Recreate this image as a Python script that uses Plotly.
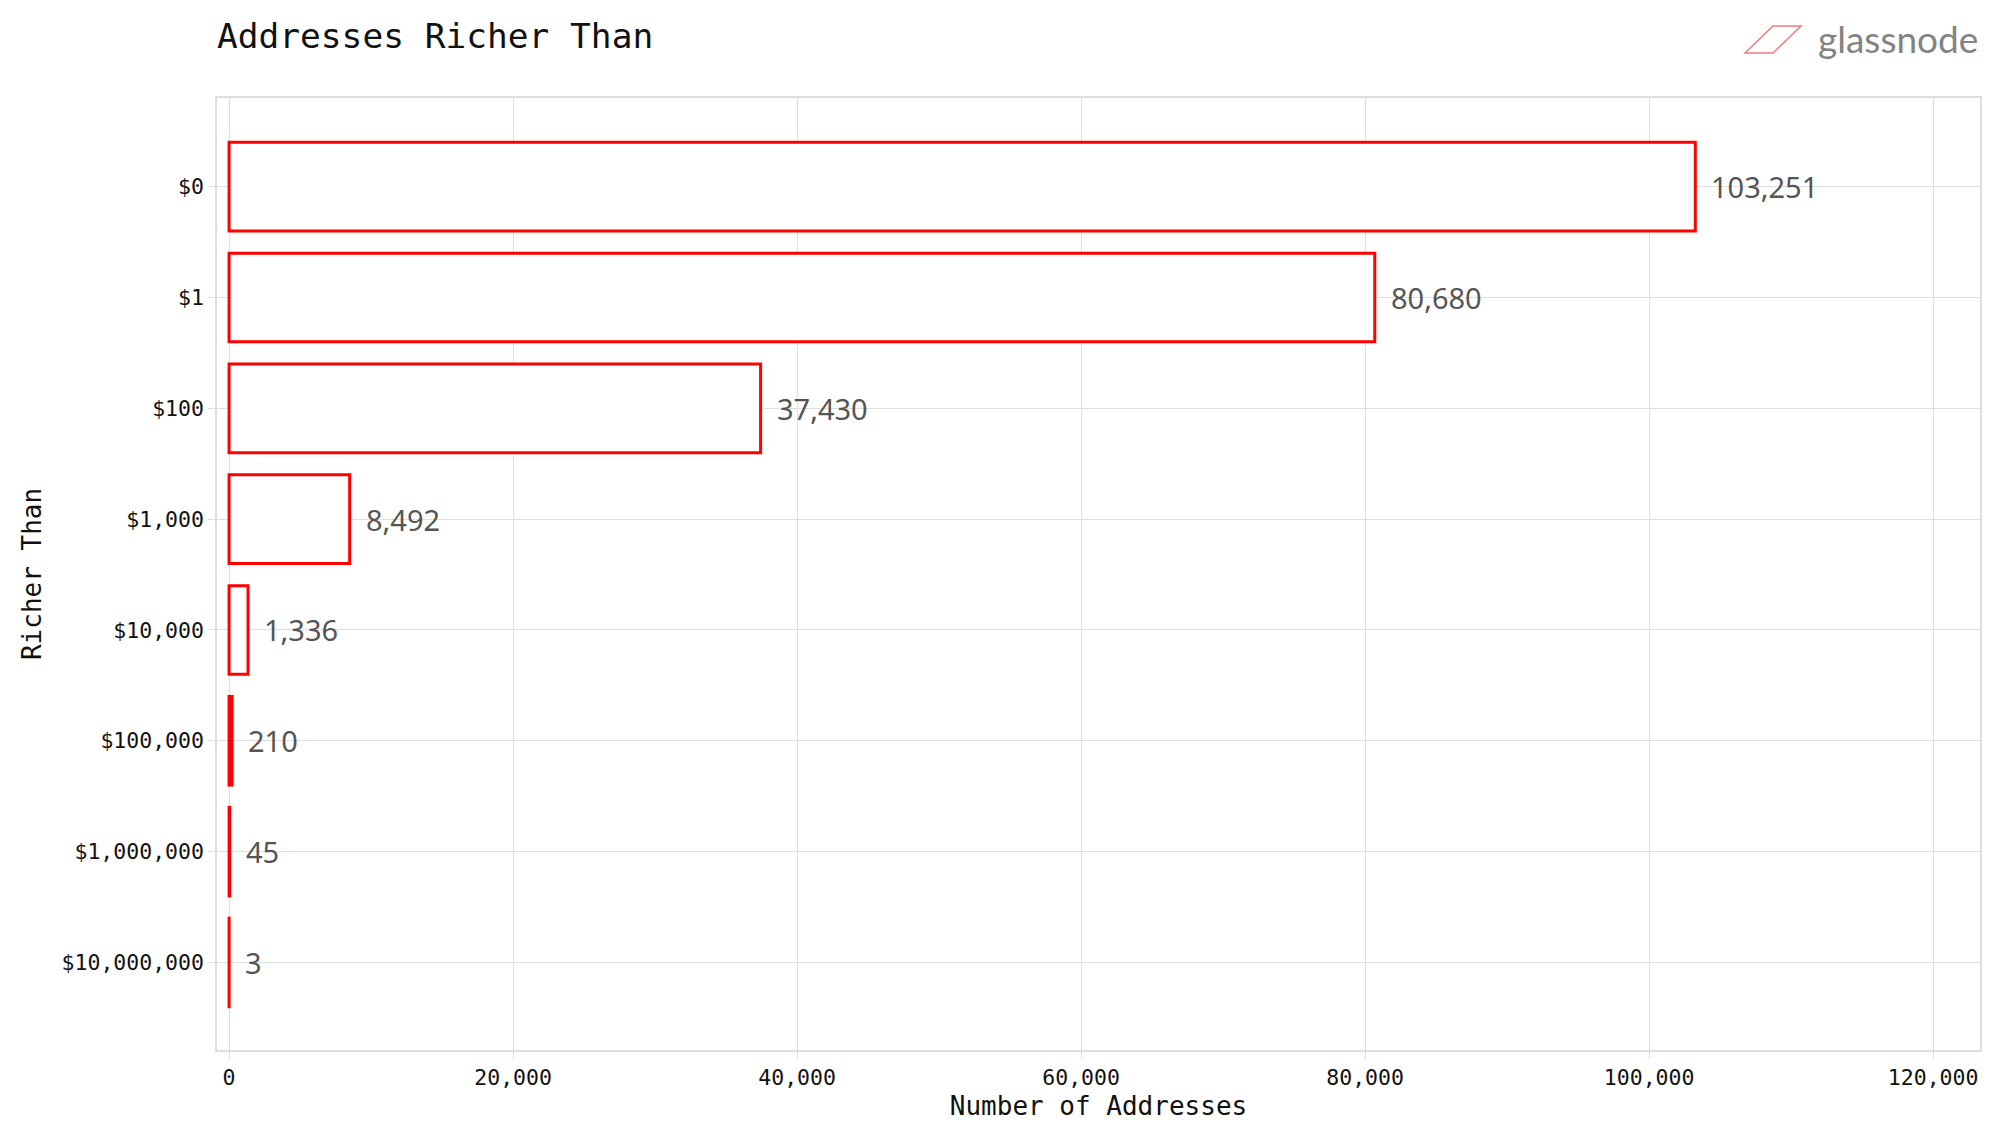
import plotly.graph_objects as go

# ---- data ----
categories = ["$0", "$1", "$100", "$1,000", "$10,000", "$100,000", "$1,000,000", "$10,000,000"]
addresses = [103251, 80680, 37430, 8492, 1336, 210, 45, 3]
x_tick_values = [0, 20000, 40000, 60000, 80000, 100000, 120000]
x_tick_labels = ["0", "20,000", "40,000", "60,000", "80,000", "100,000", "120,000"]
title_text = "Addresses Richer Than"
x_title = "Number of Addresses"
y_title = "Richer Than"
brand = "glassnode"

# ---- layout geometry (pixels) ----
W, H = 2000, 1125
ML, MR, MT, MB = 209, 28, 90, 83
PW, PH = W - ML - MR, H - MT - MB


def px_x(p):
    return (p - ML) / PW


def px_y(p):
    return (H - MB - p) / PH


MONO = "DejaVu Sans Mono"
GRID = "#dedede"

fig = go.Figure()
fig.add_trace(go.Bar(
    y=categories,
    x=addresses,
    orientation="h",
    width=0.8,
    marker=dict(color="white", line=dict(color="#ff0000", width=3)),
    hoverinfo="x+y",
))

for cat, v in zip(categories, addresses):
    fig.add_annotation(
        x=v, y=cat, xref="x", yref="y",
        text=f"{v:,}", showarrow=False,
        xanchor="left", yanchor="middle", xshift=14,
        font=dict(family="Noto Sans", size=29, color="#555555"),
    )

# logo
fig.add_annotation(
    x=px_x(1808), y=px_y(30), xref="paper", yref="paper",
    text=brand, showarrow=False, xanchor="left", yanchor="middle",
    font=dict(family="Lato", size=37, color="#838383"),
)
pts = [(1737, 45), (1765, 18), (1793, 18), (1765, 45)]
path = "M " + " L ".join(f"{px_x(a):.5f},{px_y(b):.5f}" for a, b in pts) + " Z"
fig.add_shape(type="path", path=path, xref="paper", yref="paper",
              line=dict(color="#f07a7a", width=1.5), fillcolor="rgba(0,0,0,0)")

fig.update_layout(
    width=W, height=H,
    margin=dict(l=ML, r=MR, t=MT, b=MB),
    paper_bgcolor="white", plot_bgcolor="white",
    showlegend=False,
    title=dict(text=title_text, x=ML / W, xanchor="left", xref="container",
               y=1 - 28 / H, yanchor="middle",
               font=dict(family=MONO, size=34.5, color="#111111")),
    bargap=0.2,
)
fig.update_xaxes(
    range=[-850, 123300],
    tickvals=x_tick_values, ticktext=x_tick_labels,
    showgrid=True, gridcolor=GRID, gridwidth=1,
    zeroline=False,
    showline=True, linecolor=GRID, linewidth=1.5, mirror=True,
    ticks="outside", ticklen=7, tickcolor=GRID,
    tickfont=dict(family=MONO, size=21.5, color="#111111"),
    title=dict(text=x_title, font=dict(family=MONO, size=26, color="#111111"), standoff=8),
)
fig.update_yaxes(
    categoryorder="array", categoryarray=categories,
    range=[len(categories) - 1 + 0.79, -0.8],
    showgrid=True, gridcolor=GRID, gridwidth=1,
    zeroline=False,
    showline=True, linecolor=GRID, linewidth=1.5, mirror=True,
    ticks="outside", ticklen=7, tickcolor=GRID,
    tickfont=dict(family=MONO, size=21.5, color="#111111"),
    title=dict(text=y_title, font=dict(family=MONO, size=26, color="#111111"), standoff=12),
)

fig.write_html("out.html")
